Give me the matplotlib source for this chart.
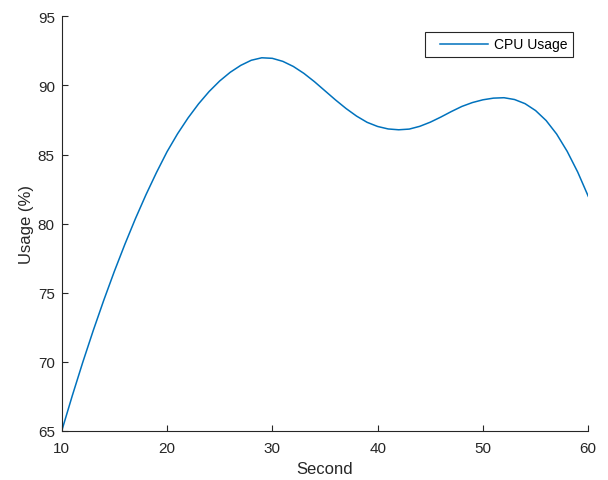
import matplotlib
matplotlib.use("Agg")
import matplotlib.pyplot as plt
from matplotlib.legend_handler import HandlerLine2D

plt.rcParams['font.family'] = ['Liberation Sans', 'DejaVu Sans']

seconds = list(range(10, 61))
usage = [65.00, 67.54, 69.97, 72.28, 74.47, 76.55, 78.51, 80.36, 82.09, 83.70,
         85.20, 86.50, 87.65, 88.67, 89.56, 90.32, 90.95, 91.45, 91.82, 92.00,
         91.96, 91.74, 91.37, 90.87, 90.27, 89.61, 88.95, 88.33, 87.78, 87.33,
         87.03, 86.85, 86.79, 86.84, 87.04, 87.34, 87.71, 88.11, 88.48, 88.76,
         88.96, 89.08, 89.11, 88.98, 88.68, 88.18, 87.46, 86.48, 85.23, 83.73,
         81.98]
xticks = [10, 20, 30, 40, 50, 60]
yticks = [65, 70, 75, 80, 85, 90, 95]


class OffsetLine(HandlerLine2D):
    def get_xdata(self, legend, xdescent, ydescent, width, height, fontsize):
        xd, xm = super().get_xdata(legend, xdescent, ydescent, width, height, fontsize)
        shift = 0.16 * width
        return [xd[0] + shift, xd[-1]], xm


dark = '#262626'
fig = plt.figure(figsize=(6.08, 4.81), dpi=100)
ax = fig.add_axes([0.1015, 0.102, 0.866, 0.862])
line, = ax.plot(seconds, usage, color='#0072BD', linewidth=1.1, label='CPU Usage')

ax.set_xlim(10, 60)
ax.set_ylim(65, 95)
ax.set_xticks(xticks)
ax.set_yticks(yticks)
for s in ['top', 'right']:
    ax.spines[s].set_visible(False)
for s in ['left', 'bottom']:
    ax.spines[s].set_color(dark)
    ax.spines[s].set_linewidth(0.8)
ax.tick_params(direction='in', length=4, width=0.8, colors=dark, labelsize=11)
ax.tick_params(axis='x', pad=7.5)
ax.tick_params(axis='y', pad=5)
ax.set_xlabel('Second', fontsize=12, color=dark, labelpad=4)
ax.set_ylabel('Usage (%)', fontsize=12, color=dark, labelpad=3)

leg = ax.legend(handler_map={line: OffsetLine()}, loc='upper right', fontsize=10,
                fancybox=False, framealpha=1, edgecolor=dark, handlelength=4.15,
                handletextpad=0.4, borderpad=0.42, borderaxespad=1.1)
leg.get_frame().set_linewidth(0.8)

fig.savefig('out.png', dpi=100)
